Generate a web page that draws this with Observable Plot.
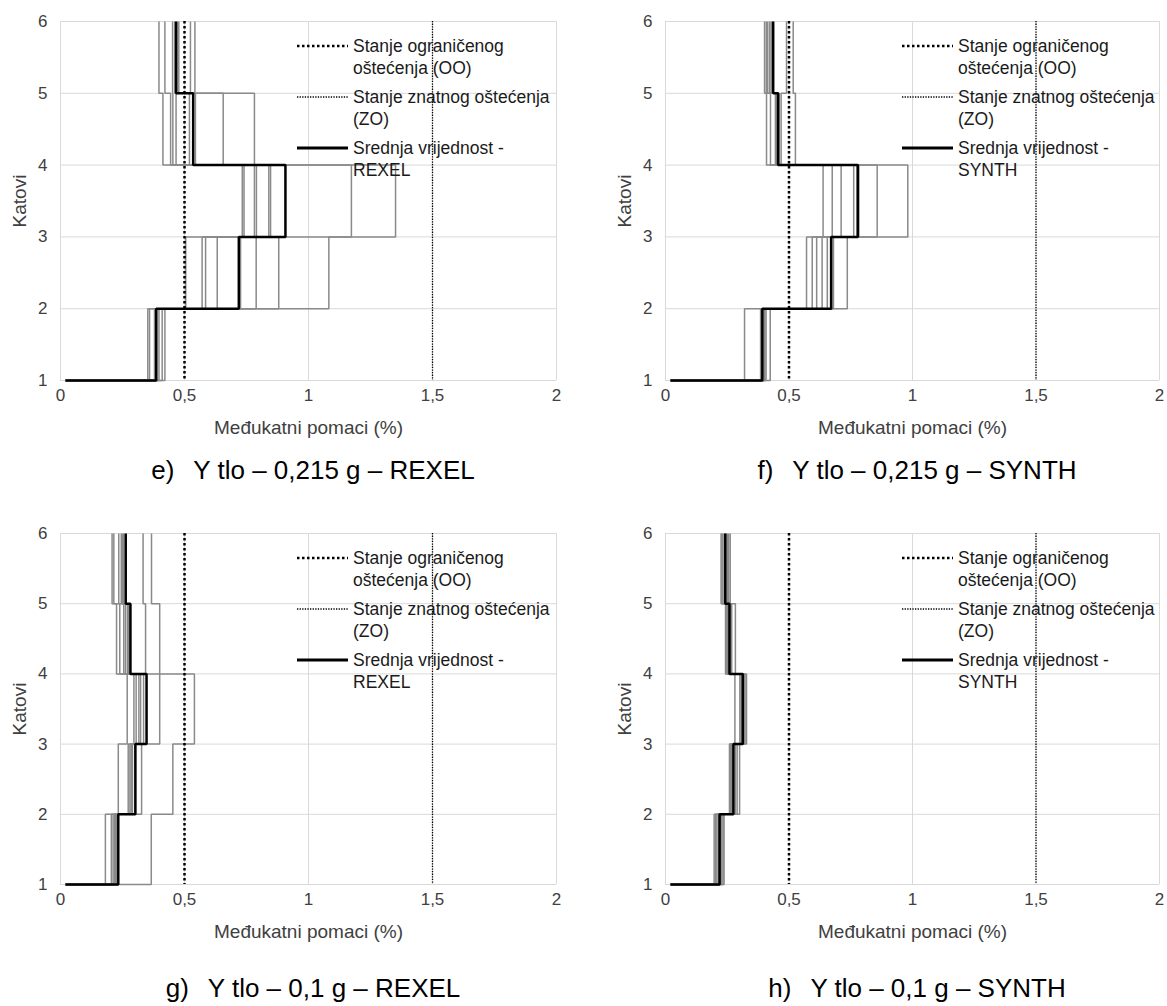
<!DOCTYPE html>
<html><head><meta charset="utf-8">
<script src="https://cdn.jsdelivr.net/npm/d3@7"></script>
<script src="https://cdn.jsdelivr.net/npm/@observablehq/plot@0.6"></script>
<style>
body{margin:0;background:#fff;}
#root{position:relative;width:1167px;height:1006px;overflow:hidden;font-family:"Liberation Sans",Arial,sans-serif;background:#fff;}
.panel{position:absolute;}
.panel svg{font-family:"Liberation Sans",Arial,sans-serif;overflow:visible;}
g[aria-label="x-axis label"], g[aria-label="y-axis label"]{font-size:19px;}
.legend{position:absolute;font-size:17.5px;line-height:22px;color:#1a1a1a;}
.entry{position:relative;height:44px;margin-bottom:7px;padding-left:56px;white-space:nowrap;}
.entry svg{position:absolute;left:0;top:0;}
.cap{position:absolute;font-size:26px;white-space:pre;color:#000;transform:translate(-50%,-50%);}
.cap span.t{margin-left:19px;}
</style></head><body><div id="root"></div>
<script>
// ---- data ----
const storeys = [1, 2, 3, 4, 5, 6];
const xTicks = [0, 0.5, 1, 1.5, 2];
const startDrift = 0.02;
const limitOO = 0.5;   // Stanje ograničenog oštećenja
const limitZO = 1.5;   // Stanje znatnog oštećenja

// inter-storey drifts (%), one row per storey (1..5), one column per record
const driftE = [
  [0.352, 0.359, 0.379, 0.384, 0.388, 0.397, 0.410, 0.421],
  [0.505, 0.571, 0.585, 0.632, 0.726, 0.789, 0.880, 1.082],
  [0.733, 0.740, 0.782, 0.790, 0.840, 0.847, 1.173, 1.351],
  [0.413, 0.444, 0.453, 0.466, 0.520, 0.544, 0.656, 0.782],
  [0.397, 0.421, 0.452, 0.461, 0.470, 0.477, 0.524, 0.542]
];
const meanE = [0.386, 0.719, 0.907, 0.535, 0.466];

const driftF = [
  [0.320, 0.385, 0.390, 0.395, 0.400, 0.402, 0.407, 0.424],
  [0.571, 0.594, 0.612, 0.634, 0.655, 0.668, 0.680, 0.736],
  [0.638, 0.675, 0.711, 0.762, 0.775, 0.782, 0.857, 0.981],
  [0.409, 0.425, 0.445, 0.450, 0.455, 0.460, 0.468, 0.526],
  [0.401, 0.408, 0.414, 0.422, 0.428, 0.432, 0.490, 0.517]
];
const meanF = [0.392, 0.671, 0.779, 0.456, 0.436];

const driftG = [
  [0.181, 0.205, 0.212, 0.218, 0.222, 0.226, 0.232, 0.366],
  [0.233, 0.273, 0.280, 0.285, 0.290, 0.300, 0.327, 0.453],
  [0.269, 0.296, 0.305, 0.316, 0.323, 0.335, 0.400, 0.540],
  [0.226, 0.239, 0.255, 0.262, 0.270, 0.275, 0.343, 0.400],
  [0.208, 0.215, 0.235, 0.245, 0.250, 0.255, 0.333, 0.367]
];
const meanG = [0.233, 0.302, 0.347, 0.282, 0.263];

const driftH = [
  [0.197, 0.203, 0.208, 0.214, 0.222, 0.228, 0.233, 0.237],
  [0.259, 0.262, 0.266, 0.270, 0.275, 0.283, 0.290, 0.300],
  [0.281, 0.301, 0.306, 0.310, 0.314, 0.318, 0.322, 0.328],
  [0.243, 0.247, 0.250, 0.255, 0.260, 0.264, 0.268, 0.283],
  [0.225, 0.229, 0.233, 0.240, 0.245, 0.250, 0.256, 0.262]
];
const meanH = [0.219, 0.275, 0.313, 0.259, 0.242];

const legendOO = ["Stanje ograničenog", "oštećenja (OO)"];
const legendZO = ["Stanje znatnog oštećenja", "(ZO)"];
const legendMean = "Srednja vrijednost -";
const suites = ["REXEL", "SYNTH", "REXEL", "SYNTH"];
const captionLetters = ["e)", "f)", "g)", "h)"];
const captionTexts = ["Y tlo – 0,215 g – REXEL", "Y tlo – 0,215 g – SYNTH", "Y tlo – 0,1 g – REXEL", "Y tlo – 0,1 g – SYNTH"];
const xLabel = "Međukatni pomaci (%)";
const yLabel = "Katovi";

// ---- build ----
function recordRows(drifts) {
  const out = [];
  const n = drifts[0].length;
  for (let r = 0; r < n; r++) {
    out.push({rec: r, x: startDrift, y: storeys[0]});
    drifts.forEach((row, k) => out.push({rec: r, x: row[r], y: storeys[k + 1]}));
  }
  return out;
}
function meanRows(mean) {
  const out = [{x: startDrift, y: storeys[0]}];
  mean.forEach((v, k) => out.push({x: v, y: storeys[k + 1]}));
  return out;
}

const panels = [
  {drifts: driftE, mean: meanE, left: 0,   top: 0,   w: 580, h: 445, ml: 60, mr: 24, mt: 21, mb: 65, capY: 470},
  {drifts: driftF, mean: meanF, left: 600, top: 0,   w: 567, h: 445, ml: 65, mr: 8,  mt: 21, mb: 65, capY: 470},
  {drifts: driftG, mean: meanG, left: 0,   top: 512, w: 580, h: 440, ml: 60, mr: 24, mt: 21, mb: 68, capY: 988},
  {drifts: driftH, mean: meanH, left: 600, top: 512, w: 567, h: 440, ml: 65, mr: 8,  mt: 21, mb: 68, capY: 988}
];

const root = document.getElementById("root");
const fmtX = d => String(d).replace(".", ",");
const fmtY = d => String(d);

panels.forEach((p, i) => {
  const chart = Plot.plot({
    width: p.w, height: p.h,
    marginLeft: p.ml, marginRight: p.mr, marginTop: p.mt, marginBottom: p.mb,
    style: {fontSize: "17px", color: "#404040", background: "transparent"},
    x: {domain: [0, 2], ticks: xTicks, tickFormat: fmtX, tickSize: 0, tickPadding: 8,
        label: xLabel, labelAnchor: "center", labelArrow: "none", labelOffset: 53},
    y: {domain: [1, 6], ticks: storeys, tickFormat: fmtY, tickSize: 0, tickPadding: 13,
        label: yLabel, labelAnchor: "center", labelArrow: "none", labelOffset: 48},
    marks: [
      Plot.gridX(xTicks, {stroke: "#d9d9d9", strokeOpacity: 1, strokeWidth: 1}),
      Plot.gridY(storeys, {stroke: "#d9d9d9", strokeOpacity: 1, strokeWidth: 1}),
      Plot.line(recordRows(p.drifts), {x: "x", y: "y", z: "rec", curve: "step-after",
        stroke: "#8a8a8a", strokeWidth: 1.5, strokeLinejoin: "miter", strokeLinecap: "butt"}),
      Plot.ruleX([limitOO], {stroke: "#000", strokeWidth: 2.5, strokeDasharray: "2.5,2.5"}),
      Plot.ruleX([limitZO], {stroke: "#000", strokeWidth: 1.3, strokeDasharray: "1.3,1.3"}),
      Plot.line(meanRows(p.mean), {x: "x", y: "y", curve: "step-after",
        stroke: "#000", strokeWidth: 2.5, strokeLinejoin: "miter", strokeLinecap: "butt"})
    ]
  });
  const wrap = document.createElement("div");
  wrap.className = "panel";
  wrap.style.left = p.left + "px";
  wrap.style.top = p.top + "px";
  wrap.appendChild(chart);
  root.appendChild(wrap);

  // legend (upper right inside plot area)
  const lg = document.createElement("div");
  lg.className = "legend";
  lg.style.left = (p.left + p.ml + 237) + "px";
  lg.style.top = (p.top + p.mt + 14) + "px";
  const sw = (w, dash) => `<svg width="51" height="22"><line x1="0" x2="51" y1="11" y2="11" stroke="#000" stroke-width="${w}" ${dash ? `stroke-dasharray="${dash}"` : ""}/></svg>`;
  lg.innerHTML =
    `<div class="entry">${sw(2.5, "2.5,2.5")}${legendOO[0]}<br>${legendOO[1]}</div>` +
    `<div class="entry">${sw(1.3, "1.3,1.3")}${legendZO[0]}<br>${legendZO[1]}</div>` +
    `<div class="entry">${sw(3)}${legendMean}<br>${suites[i]}</div>`;
  root.appendChild(lg);

  // caption, centred under the plot area
  const cap = document.createElement("div");
  cap.className = "cap";
  cap.style.left = (p.left + p.ml + (p.w - p.ml - p.mr) / 2 + 5) + "px";
  cap.style.top = p.capY + "px";
  cap.innerHTML = `<span>${captionLetters[i]}</span><span class="t">${captionTexts[i]}</span>`;
  root.appendChild(cap);
});
</script></body></html>
